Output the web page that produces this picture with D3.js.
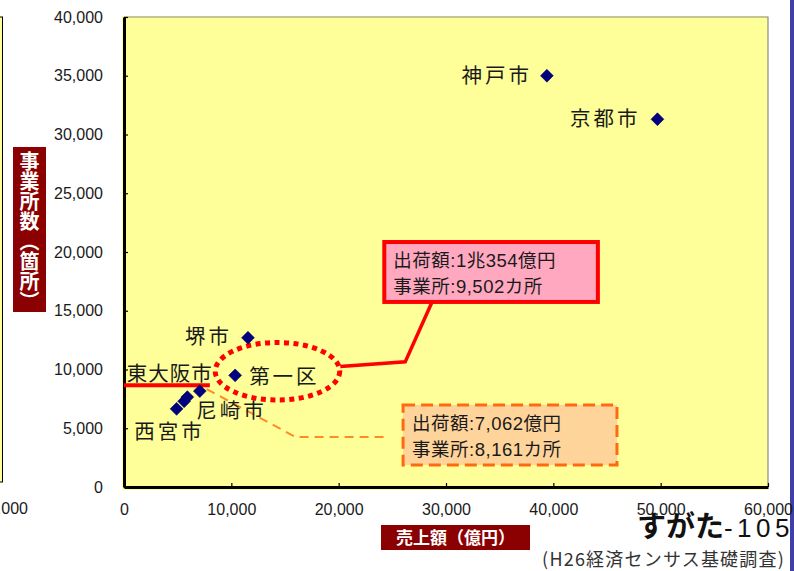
<!DOCTYPE html>
<html>
<head>
<meta charset="utf-8">
<script src="https://cdn.jsdelivr.net/npm/d3@7"></script>
<style>
  body { margin: 0; background: #fff; }
  svg { display: block; }
  .tick text { font-family: "Liberation Sans", Arial, sans-serif; font-size: 16px; fill: #1a1a1a; }
  .jp { font-family: "Noto Sans CJK JP", sans-serif; }
  .mix { font-family: "Liberation Sans", Arial, "Noto Sans CJK JP", sans-serif; }
</style>
</head>
<body>
<svg id="chart" width="794" height="571"></svg>
<script>
// points (sales in 億円, offices in 箇所)
const cityNames  = ["神戸市", "京都市", "堺市", "第一区", "東大阪市", "尼崎市", "", "西宮市"];
const salesValue = [39400, 49700, 11550, 10354, 7062, 5900, 5600, 4900];
const officeCount = [35000, 31300, 12700, 9502, 8161, 7650, 7300, 6650];

const xTicks = [0, 10000, 20000, 30000, 40000, 50000, 60000];
const yTicks = [0, 5000, 10000, 15000, 20000, 25000, 30000, 35000, 40000];

// label placement relative to its point (pixels)
const labelPos = {
  "神戸市":   {dx: -15, dy: 7,  anchor: "end"},
  "京都市":   {dx: -17, dy: 7,  anchor: "end"},
  "堺市":     {dx: -16, dy: 6,  anchor: "end"},
  "第一区":   {dx: 14,  dy: 9,  anchor: "start"},
  "東大阪市": {dx: -73, dy: -10, anchor: "start"},
  "尼崎市":   {dx: 9,   dy: 21, anchor: "start"},
  "西宮市":   {dx: -7,  dy: 30, anchor: "middle"}
};

const svg = d3.select("#chart");

const x = d3.scaleLinear().domain([0, 60000]).range([124, 768]);
const y = d3.scaleLinear().domain([0, 40000]).range([487, 17]);

// bits of the neighbouring slide chart at the left edge, and the blue rule on the right
svg.append("rect").attr("x", -5).attr("y", 17).attr("width", 7.5).attr("height", 465)
  .style("fill", "#ffff99").style("stroke", "#000").style("stroke-width", 1);
svg.append("text").attr("x", 28).attr("y", 514).attr("text-anchor", "end")
  .style("font-family", "Liberation Sans, Arial, sans-serif").style("font-size", "16px")
  .style("fill", "#1a1a1a").text("50,000");
svg.append("rect").attr("x", 790).attr("y", 0).attr("width", 4).attr("height", 571)
  .style("fill", "#3f3fa6");

// plot area
svg.append("rect")
  .attr("x", x(0) - 2).attr("y", y(40000) - 1)
  .attr("width", x(60000) - x(0) + 2).attr("height", y(0) - y(40000) + 4)
  .style("fill", "#ffff99").style("stroke", "none");
svg.append("path")
  .attr("d", `M${x(0)},${y(40000)}H${x(60000)}V${y(0)}`)
  .style("fill", "none").style("stroke", "#8a8a8a").style("stroke-width", 1.2);

const yAxis = svg.append("g")
  .attr("transform", `translate(${x(0)},0)`)
  .call(d3.axisLeft(y).tickValues(yTicks).tickFormat(d3.format(","))
    .tickSizeInner(-4).tickSizeOuter(0).tickPadding(21));
const xAxis = svg.append("g")
  .attr("transform", `translate(0,${y(0)})`)
  .call(d3.axisBottom(x).tickValues(xTicks).tickFormat(d3.format(","))
    .tickSizeInner(-4).tickSizeOuter(0).tickPadding(17));
[yAxis, xAxis].forEach(a => {
  a.select(".domain").style("stroke", "#000").style("stroke-width", 3);
  a.selectAll(".tick line").style("stroke", "#000").style("stroke-width", 1.2);
});

// axis titles
svg.append("rect").attr("x", 13).attr("y", 147).attr("width", 33).attr("height", 165)
  .style("fill", "#8b0000");
svg.append("text").attr("class", "jp")
  .attr("x", 29.5).attr("y", 151)
  .style("writing-mode", "vertical-rl")
  .style("font-size", "20px").style("font-weight", "bold").style("fill", "#fff")
  .text("事業所数（箇所）");

svg.append("rect").attr("x", 381).attr("y", 525).attr("width", 149).attr("height", 25)
  .style("fill", "#8b0000");
svg.append("text").attr("class", "jp")
  .attr("x", 455.5).attr("y", 544).attr("text-anchor", "middle")
  .style("font-size", "17px").style("font-weight", "bold").style("fill", "#fff")
  .text("売上額（億円）");

// annotations (positioned in data units)
const line = d3.line().x(d => x(d[0])).y(d => y(d[1]));

// red underline of 東大阪市
svg.append("path")
  .attr("d", line([[0, 8650], [8000, 8650]]))
  .style("stroke", "#ff0000").style("stroke-width", 4).style("fill", "none");

// dotted ring round 第一区 and its leader to the pink box
svg.append("ellipse")
  .attr("cx", x(14300)).attr("cy", y(9850))
  .attr("rx", x(5800) - x(0)).attr("ry", y(0) - y(2450))
  .style("fill", "none").style("stroke", "#ff0000")
  .style("stroke-width", 5).style("stroke-dasharray", "5,4.5");
svg.append("path")
  .attr("d", line([[20150, 10250], [26200, 10650], [28700, 15750]]))
  .style("stroke", "#ff0000").style("stroke-width", 3.5).style("fill", "none");

// leader from 東大阪市 to the orange box
svg.append("path")
  .attr("d", line([[7700, 8330], [16000, 4250], [24600, 4250]]))
  .style("stroke", "#ff8a2a").style("stroke-width", 2).style("stroke-dasharray", "9,6")
  .style("fill", "none");

const boxes = [
  {x0: 24250, x1: 44150, y0: 20850, y1: 15750, fill: "#ffa8c0", stroke: "#ff0000", dash: null, w: 4,
   lines: ["出荷額:1兆354億円", "事業所:9,502カ所"]},
  {x0: 26000, x1: 45930, y0: 6980, y1: 1880, fill: "#ffd49a", stroke: "#ff6a10", dash: "12,6", w: 3,
   lines: ["出荷額:7,062億円", "事業所:8,161カ所"]}
];
boxes.forEach(b => {
  svg.append("rect")
    .attr("x", x(b.x0)).attr("y", y(b.y0))
    .attr("width", x(b.x1) - x(b.x0)).attr("height", y(b.y1) - y(b.y0))
    .style("fill", b.fill).style("stroke", b.stroke).style("stroke-width", b.w)
    .style("stroke-dasharray", b.dash);
  b.lines.forEach((t, i) => {
    svg.append("text").attr("class", "mix")
      .attr("x", x(b.x0) + 9).attr("y", y(b.y0) + 25 + i * 26)
      .style("font-size", "18.5px").style("letter-spacing", "0.5px").style("fill", "#1a1a1a")
      .text(t);
  });
});

// points
const pts = cityNames.map((n, i) => ({name: n, sales: salesValue[i], offices: officeCount[i]}));
svg.selectAll("path.pt")
  .data(pts)
  .join("path")
  .attr("class", "pt")
  .attr("d", d3.symbol().type(d3.symbolSquare).size(82))
  .attr("transform", d => `translate(${x(d.sales)},${y(d.offices)}) rotate(45)`)
  .style("fill", "#000080").style("stroke", "#0a0a50").style("stroke-width", 0.6);

svg.selectAll("text.lbl")
  .data(pts.filter(d => d.name))
  .join("text")
  .attr("class", "lbl jp")
  .attr("x", d => x(d.sales) + labelPos[d.name].dx)
  .attr("y", d => y(d.offices) + labelPos[d.name].dy)
  .attr("text-anchor", d => labelPos[d.name].anchor)
  .style("font-size", "20.5px").style("letter-spacing", d => d.name === "東大阪市" ? "1px" : "3px")
  .style("fill", "#1a1a1a")
  .text(d => d.name);

// page footer
const title = svg.append("text").attr("x", 794).attr("y", 537).attr("text-anchor", "end");
title.append("tspan").attr("class", "jp")
  .style("font-size", "29px").style("font-weight", "bold").style("fill", "#111")
  .text("すがた");
title.append("tspan")
  .style("font-family", "Liberation Sans, Arial, sans-serif")
  .style("font-size", "26px").style("letter-spacing", "4.5px").style("fill", "#111")
  .text("-105");
svg.append("text").attr("class", "jp")
  .attr("x", 785).attr("y", 566).attr("text-anchor", "end")
  .style("font-size", "18px").style("letter-spacing", "1.2px").style("fill", "#333")
  .text("(H26経済センサス基礎調査)");
</script>
</body>
</html>
